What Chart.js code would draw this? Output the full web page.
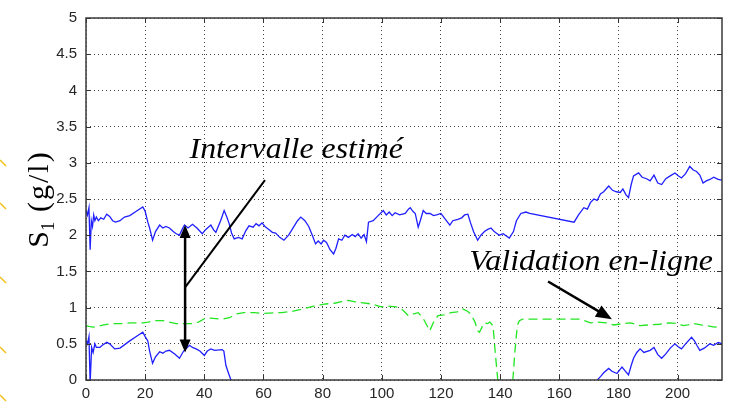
<!DOCTYPE html>
<html lang="fr">
  <head>
    <meta charset="UTF-8" />
    <title>S1 - intervalle estimé et validation en-ligne</title>
    <script src="https://cdn.jsdelivr.net/npm/chart.js@4"></script>
    <style>
      html,
      body {
        margin: 0;
        padding: 0;
        background: #fff;
      }
    </style>
  </head>
  <body>
    <canvas id="s1Chart" width="730" height="407"></canvas>

    <script>
      // Axis ticks
      const xTicks = [0, 20, 40, 60, 80, 100, 120, 140, 160, 180, 200];
      const yTicks = [0, 0.5, 1, 1.5, 2, 2.5, 3, 3.5, 4, 4.5, 5];

      // Upper bound of the estimated interval [time, S1 g/l]
      const upperBound = [
        [0, 2.35], [0.5, 2.28], [1, 2.38], [1.4, 1.8], [1.8, 2.2], [2.2, 2.12],
        [2.6, 2.28], [3, 2.2], [3.5, 2.25], [4.2, 2.2], [5, 2.24], [6, 2.22],
        [7, 2.29], [8, 2.26], [9, 2.2], [10, 2.18], [11.5, 2.2], [13, 2.25],
        [14.8, 2.27], [17, 2.33], [19.2, 2.39], [20, 2.33], [20.9, 2.18],
        [21.5, 2.1], [22.5, 1.93], [23.5, 2.05], [24.9, 2.14], [26, 2.1],
        [27, 2.12], [28.2, 2.1], [29.5, 2.05], [30.5, 2.02], [31.6, 2.0],
        [32.5, 2.08], [33.3, 2.14], [34.5, 2.1], [36, 2.15], [37.5, 2.1],
        [39.3, 2.02], [40.5, 2.08], [42.2, 2.14], [43.2, 2.07], [43.9, 2.04],
        [45.5, 2.2], [46.7, 2.34], [47.6, 2.25], [48.4, 2.16], [49.2, 2.03],
        [50.1, 1.95], [51.5, 1.97], [52.8, 1.95], [54, 2.06], [55.1, 2.13],
        [56.5, 2.11], [57.5, 2.16], [58.5, 2.13], [59.5, 2.17], [60.5, 2.12],
        [61.8, 2.08], [63, 2.04], [64.1, 2.03], [65.5, 1.97], [66.9, 1.93],
        [68.5, 2.0], [70, 2.1], [71.5, 2.2], [72.6, 2.25], [74, 2.2],
        [75.3, 2.12], [76.5, 2.0], [77.6, 1.88], [78.5, 1.92], [79.5, 1.88],
        [80.3, 1.93], [81.3, 1.9], [82.5, 1.8], [83.7, 1.74], [84.5, 1.82],
        [85.4, 1.95], [86.5, 1.93], [87.5, 2.0], [88.7, 1.97], [90, 2.01],
        [91, 1.98], [92, 2.02], [93, 1.96], [94, 2.01], [94.8, 1.91],
        [95.5, 2.18], [97.1, 2.2], [98.5, 2.26], [100.5, 2.34], [101.5, 2.28],
        [102.5, 2.32], [103.5, 2.27], [104.5, 2.31], [106, 2.28], [107.9, 2.3],
        [109, 2.36], [109.6, 2.38], [110.5, 2.33], [111.3, 2.3], [112.3, 2.11],
        [113, 2.2], [114, 2.34], [115, 2.3], [116.3, 2.3], [117.5, 2.27],
        [118.5, 2.28], [120, 2.3], [121.5, 2.22], [123, 2.14], [124, 2.2],
        [125.7, 2.22], [127, 2.24], [128, 2.28], [129.1, 2.29], [130, 2.17],
        [131, 2.05], [132.4, 1.93], [133.5, 2.0], [134.7, 2.05], [135.8, 2.08],
        [136.9, 2.1], [138, 2.05], [139.7, 2.0], [141, 2.02], [143.1, 1.96],
        [144.5, 2.05], [145.5, 2.2], [147, 2.3], [148.7, 2.32], [150, 2.3],
        [165, 2.18], [166.5, 2.28], [168.3, 2.38], [169.5, 2.36], [170.5, 2.45],
        [171.7, 2.5], [172.8, 2.48], [173.9, 2.57], [175, 2.6], [176.7, 2.68],
        [178, 2.62], [179.3, 2.6], [180.6, 2.59], [181.5, 2.64], [182.5, 2.56],
        [183.4, 2.52], [184.3, 2.7], [185.1, 2.82], [186.8, 2.86], [188, 2.8],
        [189.5, 2.78], [190.7, 2.75], [192, 2.83], [193.3, 2.72], [194.6, 2.7],
        [196, 2.78], [197.5, 2.82], [199.1, 2.86], [200.2, 2.82], [201.3, 2.79],
        [202.7, 2.85], [204.1, 2.95], [205.3, 2.9], [206.4, 2.88], [207.5, 2.83],
        [208.6, 2.72], [209.7, 2.75], [210.9, 2.77], [212.2, 2.8], [213.7, 2.77],
        [215, 2.76]
      ];

      // Lower bound of the estimated interval (goes below 0 between ~50 and ~172)
      const lowerBound = [
        [0, 0.55], [0.5, 0.5], [1, 0.6], [1.4, -0.05], [1.9, 0.45], [2.4, 0.38],
        [3, 0.5], [3.5, 0.45], [4.7, 0.45], [5.5, 0.48], [7, 0.52], [8, 0.5],
        [9.7, 0.43], [11.5, 0.44], [14.8, 0.54], [17, 0.6], [19.2, 0.66],
        [20, 0.6], [20.9, 0.54], [21.5, 0.4], [22.5, 0.23], [23.5, 0.32],
        [24.9, 0.39], [26, 0.37], [27, 0.4], [28.2, 0.41], [30, 0.36],
        [31.6, 0.3], [33, 0.4], [35, 0.48], [36, 0.45], [37.2, 0.43],
        [38.5, 0.4], [40, 0.34], [41, 0.4], [42.2, 0.43], [43.5, 0.41],
        [46, 0.42], [46.6, 0.4], [47.3, 0.2], [48.3, 0.08], [49, 0.0],
        [49.8, -0.12], [100, null],
        [172, -0.1], [172.8, 0.0], [174, 0.05], [175, 0.1], [176.7, 0.16],
        [177.8, 0.12], [179.5, 0.09], [181.2, 0.18], [182.4, 0.12], [183.4, 0.07],
        [184.3, 0.2], [185.1, 0.3], [186.2, 0.38], [187.3, 0.43], [188.6, 0.38],
        [190.7, 0.41], [192, 0.45], [193.3, 0.35], [194.6, 0.3], [196, 0.36],
        [197.5, 0.44], [199.1, 0.5], [200.2, 0.46], [201.3, 0.43], [202.7, 0.5],
        [204.7, 0.59], [205.7, 0.54], [206.5, 0.48], [207.5, 0.41], [209, 0.44],
        [210.9, 0.5], [212.2, 0.48], [213.7, 0.52], [215, 0.5]
      ];

      // On-line validation signal (dashed)
      const validation = [
        [0, 0.75], [1, 0.74], [2.4, 0.73], [4, 0.74], [6, 0.76], [9.1, 0.78],
        [12, 0.78], [15, 0.79], [19.2, 0.79], [21, 0.8], [23.7, 0.82], [26, 0.82],
        [28, 0.8], [30.5, 0.78], [33, 0.78], [36, 0.78], [38, 0.8], [40.6, 0.86],
        [43, 0.85], [46, 0.84], [48.5, 0.86], [50.6, 0.91], [53.4, 0.93],
        [57, 0.93], [60, 0.92], [64.1, 0.93], [66.2, 0.93], [70, 0.95],
        [73, 0.98], [77, 1.02], [80.9, 1.05], [84, 1.06], [86, 1.08],
        [88.7, 1.1], [91, 1.08], [93, 1.07], [96.5, 1.05], [99.8, 1.01],
        [102, 1.02], [104.9, 1.01], [107, 0.97], [108.9, 0.89], [110.5, 0.91],
        [112.3, 0.93], [114, 0.85], [116.2, 0.68], [117.5, 0.8], [119, 0.89],
        [121, 0.9], [123.4, 0.93], [125.5, 0.94], [127.4, 0.98], [129, 0.95],
        [130.1, 0.91], [131.5, 0.8], [132.4, 0.68], [133, 0.66], [134, 0.74],
        [134.7, 0.79], [135.8, 0.78], [136.5, 0.8], [137.6, 0.75], [138.3, 0.4],
        [139.2, 0.0], [139.8, -0.2], [142, null],
        [143.8, -0.2], [144.3, 0.0], [145, 0.4], [145.8, 0.75], [146.5, 0.82],
        [147.6, 0.84], [152, 0.84], [156, 0.84], [160, 0.84], [164, 0.84],
        [167.2, 0.84], [168.5, 0.82], [170.5, 0.79], [173, 0.8], [176.1, 0.79],
        [178.4, 0.76], [180, 0.77], [182, 0.78], [184, 0.79], [186, 0.77],
        [187.3, 0.75], [190, 0.76], [194, 0.77], [197.4, 0.79], [200, 0.78],
        [201.9, 0.75], [203.5, 0.76], [205.3, 0.78], [208, 0.76], [210, 0.75],
        [212.5, 0.73], [215, 0.74]
      ];

      // Annotations, in data coordinates
      const intervalLabel = { text: "Intervalle estimé", x: 35, y: 3.07 };
      const intervalArrow = { x: 33.5, top: 2.14, bottom: 0.38 };
      const intervalLeader = { from: [33.5, 1.28], to: [60.5, 2.76] };
      const validationLabel = { text: "Validation en-ligne", x: 129.6, y: 1.52 };
      const validationArrow = { from: [156.2, 1.36], to: [177.8, 0.84] };

      const toPoints = (pairs) => pairs.map(([x, y]) => ({ x, y }));

      function arrowHead(ctx, tipX, tipY, fromX, fromY, len, half) {
        const a = Math.atan2(tipY - fromY, tipX - fromX);
        ctx.beginPath();
        ctx.moveTo(tipX, tipY);
        ctx.lineTo(tipX - len * Math.cos(a) + half * Math.sin(a), tipY - len * Math.sin(a) - half * Math.cos(a));
        ctx.lineTo(tipX - len * Math.cos(a) - half * Math.sin(a), tipY - len * Math.sin(a) + half * Math.cos(a));
        ctx.closePath();
        ctx.fill();
      }

      // italic serif label, a bit wider than the plain font
      function wideText(ctx, text, px, py) {
        ctx.save();
        ctx.translate(px, py);
        ctx.scale(1.1, 1);
        ctx.fillText(text, 0, 0);
        ctx.restore();
      }

      // Frame, inward tick marks, y label with subscript and the text annotations
      const decorations = {
        id: "decorations",
        afterDraw(chart) {
          const { ctx, chartArea: a } = chart;
          const xs = chart.scales.x;
          const ys = chart.scales.y;
          ctx.save();

          // inward ticks on all four sides
          ctx.strokeStyle = "#333";
          ctx.lineWidth = 1;
          ctx.beginPath();
          xTicks.forEach((v) => {
            const px = Math.round(xs.getPixelForValue(v)) + 0.5;
            ctx.moveTo(px, a.bottom); ctx.lineTo(px, a.bottom - 5);
            ctx.moveTo(px, a.top); ctx.lineTo(px, a.top + 5);
          });
          yTicks.forEach((v) => {
            const py = Math.round(ys.getPixelForValue(v)) + 0.5;
            ctx.moveTo(a.left, py); ctx.lineTo(a.left + 5, py);
            ctx.moveTo(a.right, py); ctx.lineTo(a.right - 5, py);
          });
          ctx.stroke();

          // box
          ctx.lineWidth = 1.5;
          ctx.strokeStyle = "#3a3a3a";
          ctx.strokeRect(a.left, a.top, a.right - a.left, a.bottom - a.top);

          // y axis title: S1 (g/l)
          ctx.save();
          ctx.translate(48, 199);
          ctx.rotate(-Math.PI / 2);
          ctx.fillStyle = "#000";
          ctx.textBaseline = "alphabetic";
          const big = '30px "Liberation Serif"';
          const small = '19px "Liberation Serif"';
          ctx.font = big;
          const wS = ctx.measureText("S").width;
          ctx.letterSpacing = "2px";
          const wRest = ctx.measureText(" (g/l)").width;
          ctx.letterSpacing = "0px";
          ctx.font = small;
          const w1 = ctx.measureText("1").width;
          let cx = -(wS + w1 + wRest) / 2;
          ctx.font = big;
          ctx.fillText("S", cx, 0);
          cx += wS;
          ctx.font = small;
          ctx.fillText("1", cx, 6);
          cx += w1;
          ctx.font = big;
          ctx.letterSpacing = "2px";
          ctx.fillText(" (g/l)", cx, 0);
          ctx.letterSpacing = "0px";
          ctx.restore();

          // annotation texts
          ctx.fillStyle = "#000";
          ctx.font = 'italic 29px "Liberation Serif"';
          ctx.textBaseline = "alphabetic";
          wideText(ctx, intervalLabel.text, xs.getPixelForValue(intervalLabel.x), ys.getPixelForValue(intervalLabel.y));
          wideText(ctx, validationLabel.text, xs.getPixelForValue(validationLabel.x), ys.getPixelForValue(validationLabel.y));

          // double arrow of the interval
          ctx.strokeStyle = "#000";
          ctx.fillStyle = "#000";
          const ax = xs.getPixelForValue(intervalArrow.x);
          const aTop = ys.getPixelForValue(intervalArrow.top);
          const aBot = ys.getPixelForValue(intervalArrow.bottom);
          ctx.lineWidth = 2.5;
          ctx.beginPath();
          ctx.moveTo(ax, aTop + 8);
          ctx.lineTo(ax, aBot - 8);
          ctx.stroke();
          arrowHead(ctx, ax, aTop, ax, aBot, 13, 5.5);
          arrowHead(ctx, ax, aBot, ax, aTop, 13, 5.5);

          // leader line towards the label
          ctx.lineWidth = 2;
          ctx.beginPath();
          ctx.moveTo(xs.getPixelForValue(intervalLeader.from[0]), ys.getPixelForValue(intervalLeader.from[1]));
          ctx.lineTo(xs.getPixelForValue(intervalLeader.to[0]), ys.getPixelForValue(intervalLeader.to[1]));
          ctx.stroke();

          // arrow to the validation curve
          const fx = xs.getPixelForValue(validationArrow.from[0]);
          const fy = ys.getPixelForValue(validationArrow.from[1]);
          const tx = xs.getPixelForValue(validationArrow.to[0]);
          const ty = ys.getPixelForValue(validationArrow.to[1]);
          ctx.lineWidth = 2.5;
          ctx.beginPath();
          ctx.moveTo(fx, fy);
          ctx.lineTo(tx - (tx - fx) * 0.2, ty - (ty - fy) * 0.2);
          ctx.stroke();
          arrowHead(ctx, tx, ty, fx, fy, 16, 6.5);

          // yellow marks on the left border
          ctx.strokeStyle = "#f2c21b";
          ctx.lineWidth = 1.5;
          ctx.beginPath();
          [165, 208, 282, 352, 400].forEach((py) => {
            ctx.moveTo(0, py - 5);
            ctx.lineTo(6, py + 1);
          });
          ctx.stroke();

          ctx.restore();
        },
      };

      const ctx = document.getElementById("s1Chart").getContext("2d");
      new Chart(ctx, {
        type: "line",
        data: {
          datasets: [
            {
              label: "Borne supérieure",
              data: toPoints(upperBound),
              borderColor: "#1f1fff",
              borderWidth: 1.3,
              pointRadius: 0,
              tension: 0,
              spanGaps: false,
            },
            {
              label: "Borne inférieure",
              data: toPoints(lowerBound),
              borderColor: "#1f1fff",
              borderWidth: 1.3,
              pointRadius: 0,
              tension: 0,
              spanGaps: false,
            },
            {
              label: "Validation en-ligne",
              data: toPoints(validation),
              borderColor: "#22e622",
              borderWidth: 1.3,
              borderDash: [9, 5],
              pointRadius: 0,
              tension: 0,
              spanGaps: false,
            },
          ],
        },
        options: {
          responsive: false,
          animation: false,
          layout: { padding: { top: 12, right: 8, left: 0, bottom: 0 } },
          plugins: {
            legend: { display: false },
            tooltip: { enabled: false },
          },
          scales: {
            x: {
              type: "linear",
              min: 0,
              max: 215,
              afterBuildTicks: (scale) => {
                scale.ticks = xTicks.map((value) => ({ value }));
              },
              afterFit: (scale) => {
                scale.height = 27;
              },
              grid: { color: "#444", lineWidth: 1, drawTicks: false },
              border: { display: false, dash: [1, 3] },
              ticks: {
                padding: 5,
                color: "#262626",
                font: { family: "Liberation Sans", size: 15 },
                maxRotation: 0,
                callback: (v) => String(v),
              },
            },
            y: {
              min: 0,
              max: 5,
              afterBuildTicks: (scale) => {
                scale.ticks = yTicks.map((value) => ({ value }));
              },
              afterFit: (scale) => {
                scale.width = 86;
              },
              grid: { color: "#444", lineWidth: 1, drawTicks: false },
              border: { display: false, dash: [1, 3] },
              ticks: {
                padding: 9,
                color: "#262626",
                font: { family: "Liberation Sans", size: 15 },
                callback: (v) => String(v),
              },
            },
          },
        },
        plugins: [decorations],
      });
    </script>
  </body>
</html>
